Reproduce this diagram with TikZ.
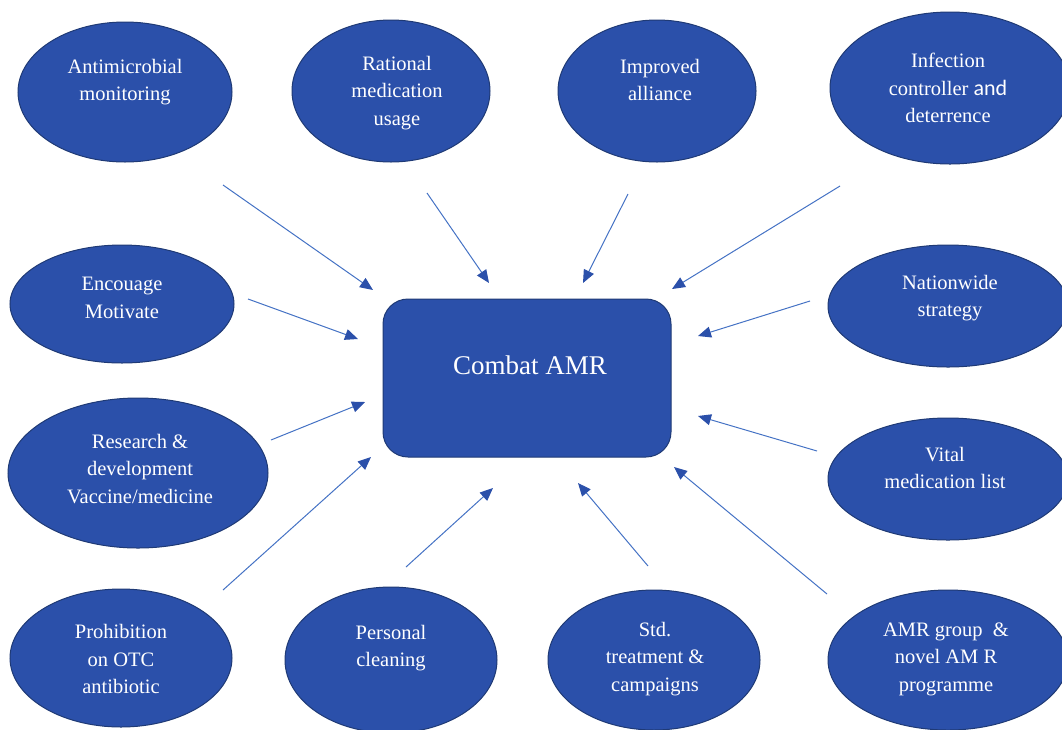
\documentclass[tikz,border=0pt]{standalone}
\usepackage{fontspec}
\setmainfont{Liberation Serif}
\newfontfamily\calfont{Carlito}
\usepackage{xcolor}
\usetikzlibrary{shapes,arrows,positioning,calc,arrows.meta}
\definecolor{amrblue}{HTML}{2B50AA}
\definecolor{amredge}{HTML}{1F3A75}
\definecolor{amrline}{HTML}{4472C4}

\begin{document}
\begin{tikzpicture}[x=1pt, y=-1pt, >={Triangle[length=13pt,width=11pt,color=amrblue]},
    bubble/.style={ellipse, draw=amredge, line width=1pt, fill=amrblue, inner sep=0pt},
    lbl/.style={text=white, align=center, inner sep=0pt, font=\fontsize{20.5}{27.5}\selectfont},
    link/.style={->, draw=amrline, line width=1pt}]
    \useasboundingbox (0,0) rectangle (1062,729);

    % centre box
    \node [draw=amredge, line width=1pt, fill=amrblue, rounded corners=25pt, minimum width=288pt, minimum height=158pt] (amr) at (527,378) {};
    \node [text=white, font=\fontsize{27}{32}\selectfont] (amr-t) at (530,365) {Combat AMR};

    % outer ellipses
    \node [bubble, minimum width=214pt, minimum height=140pt] (amon) at (125,92) {};
    \node [bubble, minimum width=198pt, minimum height=142pt] (ratmed) at (391,91) {};
    \node [bubble, minimum width=198pt, minimum height=142pt] (ally) at (657,91) {};
    \node [bubble, minimum width=240pt, minimum height=152pt] (infect) at (950,88) {};
    \node [bubble, minimum width=224pt, minimum height=118pt] (motiv) at (122,304) {};
    \node [bubble, minimum width=240pt, minimum height=122pt] (nation) at (948,306) {};
    \node [bubble, minimum width=260pt, minimum height=150pt] (resdev) at (138,473) {};
    \node [bubble, minimum width=240pt, minimum height=122pt] (vital) at (948,479) {};
    \node [bubble, minimum width=222pt, minimum height=138pt] (otc) at (121,658) {};
    \node [bubble, minimum width=212pt, minimum height=146pt] (clean) at (391,660) {};
    \node [bubble, minimum width=212pt, minimum height=140pt] (stdtr) at (654,660) {};
    \node [bubble, minimum width=240pt, minimum height=140pt] (amrgrp) at (948,660) {};

    % ellipse texts
    \node [lbl] (amon-t) at (125,82) {Antimicrobial\\monitoring};
    \node [lbl] (ratmed-t) at (397,93) {Rational\\medication\\usage};
    \node [lbl] (ally-t) at (660,80) {Improved\\alliance};
    \node [lbl] (infect-t) at (948,88) {Infection\\controller {\calfont\fontsize{22}{27.5}\selectfont and}\\deterrence};
    \node [lbl] (motiv-t) at (122,298) {Encouage\\Motivate};
    \node [lbl] (nation-t) at (950,298) {Nationwide\\strategy};
    \node [lbl] (resdev-t) at (140,469) {Research \&\\development\\Vaccine/medicine};
    \node [lbl] (vital-t) at (945,468) {Vital\\medication list};
    \node [lbl] (otc-t) at (121,659) {Prohibition\\on OTC\\antibiotic};
    \node [lbl] (clean-t) at (391,648) {Personal\\cleaning};
    \node [lbl] (stdtr-t) at (655,659) {Std.\\treatment \&\\campaigns};
    \node [lbl] (amrgrp-t) at (946,659) {AMR group\ \ \&\\novel AM R\\programme};

    % arrow ends
    \coordinate (a1) at (223,185);  \coordinate (b1) at (373,290);
    \coordinate (a2) at (427,193);  \coordinate (b2) at (489,283);
    \coordinate (a3) at (628,194);  \coordinate (b3) at (583,283);
    \coordinate (a4) at (840,186);  \coordinate (b4) at (672,289);
    \coordinate (a5) at (248,299);  \coordinate (b5) at (358,339);
    \coordinate (a6) at (810,301);  \coordinate (b6) at (698,336);
    \coordinate (a7) at (271,440);  \coordinate (b7) at (365,402);
    \coordinate (a8) at (817,451);  \coordinate (b8) at (698,416);
    \coordinate (a9) at (223,590);  \coordinate (b9) at (371,457);
    \coordinate (a10) at (406,567); \coordinate (b10) at (493,488);
    \coordinate (a11) at (648,566); \coordinate (b11) at (578,483);
    \coordinate (a12) at (827,594); \coordinate (b12) at (674,467);

    \foreach \i in {1,...,12}
        \draw [link] (a\i) -- (b\i);
\end{tikzpicture}
\end{document}
